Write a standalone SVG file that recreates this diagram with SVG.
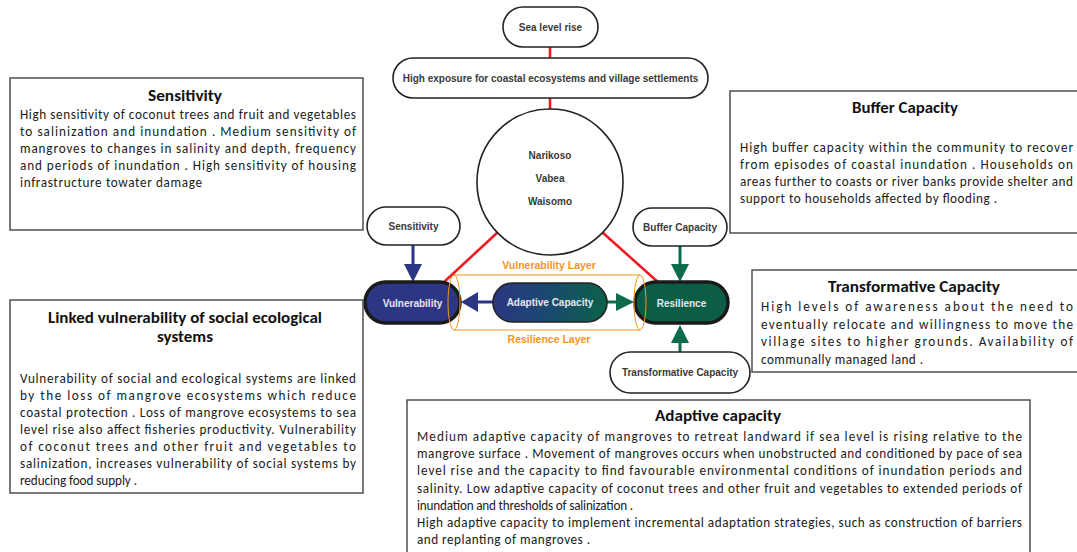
<svg xmlns="http://www.w3.org/2000/svg" width="1077" height="552" viewBox="0 0 1077 552">
<defs>
<linearGradient id="adGrad" x1="0" y1="0" x2="1" y2="0">
<stop offset="0" stop-color="#2b3782"/>
<stop offset="0.5" stop-color="#1a4a6e"/>
<stop offset="1" stop-color="#0b6247"/>
</linearGradient>
<style>
.pill{fill:#fff;stroke:#222;stroke-width:1.6}
.pl{font-family:"Liberation Sans",Arial,sans-serif;font-weight:bold;font-size:10px;fill:#3a3a3a;text-anchor:middle}
.wl{font-family:"Liberation Sans",Arial,sans-serif;font-weight:bold;font-size:10px;fill:#e8e8f0;text-anchor:middle}
.ol{font-family:"Liberation Sans",Arial,sans-serif;font-weight:bold;font-size:10.5px;fill:#f7941d;text-anchor:middle}
.box{fill:#fff;stroke:#444;stroke-width:1.4}
.t{font-family:Carlito,Lato,"Liberation Sans",sans-serif;font-size:13.2px;fill:#1a1a1a}
.h{font-family:Carlito,Lato,"Liberation Sans",sans-serif;font-size:15px;font-weight:bold;fill:#111}
.red{stroke:#ed1c24;stroke-width:2.6;fill:none}
.nav{stroke:#2b3782;stroke-width:3;fill:none}
.grn{stroke:#0e6b4c;stroke-width:3;fill:none}
.cyl{stroke:#f7941d;stroke-width:1;fill:none}
</style>
</defs>
<rect width="1077" height="552" fill="#fff"/>

<g id="connectors">
<line class="red" x1="550" y1="47" x2="550" y2="58"/>
<line class="red" x1="550" y1="98" x2="550" y2="110"/>
<line class="red" x1="498" y1="232" x2="443" y2="283"/>
<line class="red" x1="602" y1="232" x2="659" y2="283"/>
<line class="nav" x1="413" y1="245" x2="413" y2="266"/>
<polygon fill="#2b3782" points="404,264 422,264 413,282"/>
<line class="grn" x1="680" y1="246" x2="680" y2="266"/>
<polygon fill="#0e6b4c" points="671,264 689,264 680,282"/>
<line class="grn" x1="680" y1="352" x2="680" y2="341"/>
<polygon fill="#0e6b4c" points="671,343 689,343 680,325"/>
<line class="nav" x1="493" y1="302" x2="475" y2="302"/>
<polygon fill="#2b3782" points="478,292 478,312 461,302"/>
<line class="grn" x1="607" y1="302" x2="618" y2="302"/>
<polygon fill="#0e6b4c" points="616,293 616,311 634,302"/>
</g>

<g id="sea-level-rise">
<rect class="pill" x="503" y="7" width="95" height="40" rx="20"/>
<text class="pl" x="550.5" y="30.5">Sea level rise</text>
</g>
<g id="exposure">
<rect class="pill" x="393" y="58" width="315" height="40" rx="20"/>
<text class="pl" x="550.5" y="81.5">High exposure for coastal ecosystems and village settlements</text>
</g>
<g id="villages">
<circle cx="550" cy="182" r="73" fill="#fff" stroke="#222" stroke-width="1.6"/>
<text class="pl" x="550" y="158.5">Narikoso</text>
<text class="pl" x="550" y="181.5">Vabea</text>
<text class="pl" x="550" y="204.5">Waisomo</text>
</g>
<g id="sensitivity-pill">
<rect class="pill" x="367" y="207" width="93" height="38" rx="19"/>
<text class="pl" x="413.5" y="229.5">Sensitivity</text>
</g>
<g id="buffer-pill">
<rect class="pill" x="633" y="208" width="94" height="38" rx="19"/>
<text class="pl" x="680" y="230.5">Buffer Capacity</text>
</g>
<g id="vulnerability">
<rect x="365" y="282" width="95" height="41" rx="20.5" fill="#2b3782" stroke="#1a1a1a" stroke-width="3.5"/>
<text class="wl" x="412.5" y="306.5">Vulnerability</text>
</g>
<g id="adaptive-capacity">
<rect x="493" y="283" width="114" height="39" rx="19.5" fill="url(#adGrad)" stroke="#222" stroke-width="1.6"/>
<text class="wl" x="550" y="306">Adaptive Capacity</text>
</g>
<g id="resilience">
<rect x="635" y="282" width="93" height="41" rx="20.5" fill="#0b5e45" stroke="#1a1a1a" stroke-width="3.5"/>
<text class="wl" x="681.5" y="306.5">Resilience</text>
</g>
<g id="transformative-pill">
<rect class="pill" x="610" y="352" width="140" height="41" rx="20.5"/>
<text class="pl" x="680" y="376">Transformative Capacity</text>
</g>
<g id="layers">
<line class="cyl" x1="454" y1="275" x2="640" y2="275"/>
<line class="cyl" x1="454" y1="330" x2="640" y2="330"/>
<ellipse class="cyl" cx="454" cy="302.5" rx="6" ry="27.5"/>
<ellipse class="cyl" cx="640" cy="302.5" rx="6" ry="27.5"/>
<text class="ol" x="549" y="268.5">Vulnerability Layer</text>
<text class="ol" x="549" y="342.5">Resilience Layer</text>
</g>

<g id="sensitivity-box">
<rect class="box" x="10" y="78" width="353" height="152"/>
<text class="h" x="148" y="101" textLength="74" lengthAdjust="spacingAndGlyphs">Sensitivity</text>
<text class="t" x="20" y="119" textLength="336" lengthAdjust="spacing">High sensitivity of coconut trees and fruit and vegetables</text>
<text class="t" x="20" y="136" textLength="336" lengthAdjust="spacing">to salinization  and inundation . Medium sensitivity  of</text>
<text class="t" x="20" y="153" textLength="336" lengthAdjust="spacing">mangroves to changes in salinity and depth, frequency</text>
<text class="t" x="20" y="170" textLength="336" lengthAdjust="spacing">and periods of inundation . High sensitivity  of housing</text>
<text class="t" x="20" y="187" textLength="182" lengthAdjust="spacing">infrastructure towater damage</text>
</g>

<g id="buffer-box">
<rect class="box" x="730" y="91" width="360" height="142"/>
<text class="h" x="852" y="113" textLength="106" lengthAdjust="spacingAndGlyphs">Buffer Capacity</text>
<text class="t" x="740" y="152" textLength="333" lengthAdjust="spacing">High buffer capacity within the community to recover</text>
<text class="t" x="740" y="169" textLength="333" lengthAdjust="spacing">from episodes of coastal inundation . Households on</text>
<text class="t" x="740" y="186" textLength="333" lengthAdjust="spacing">areas further to coasts or river banks provide shelter and</text>
<text class="t" x="740" y="203" textLength="257" lengthAdjust="spacing">support to households affected by flooding .</text>
</g>

<g id="transformative-box">
<rect class="box" x="752" y="270" width="340" height="102"/>
<text class="h" x="828" y="292" textLength="172" lengthAdjust="spacingAndGlyphs">Transformative Capacity</text>
<text class="t" x="761" y="311" textLength="312" lengthAdjust="spacing">High levels of awareness about the need to</text>
<text class="t" x="761" y="328.5" textLength="312" lengthAdjust="spacing">eventually relocate and willingness to move the</text>
<text class="t" x="761" y="346" textLength="312" lengthAdjust="spacing">village sites to higher grounds. Availability of</text>
<text class="t" x="761" y="363.5" textLength="162" lengthAdjust="spacing">communally managed land .</text>
</g>

<g id="linked-box">
<rect class="box" x="10" y="300" width="353" height="193"/>
<text class="h" x="48" y="323" textLength="274" lengthAdjust="spacingAndGlyphs">Linked vulnerability of social ecological</text>
<text class="h" x="157" y="342" textLength="56" lengthAdjust="spacingAndGlyphs">systems</text>
<text class="t" x="20" y="383" textLength="336" lengthAdjust="spacing">Vulnerability of social and ecological systems are linked</text>
<text class="t" x="20" y="400" textLength="336" lengthAdjust="spacing">by the loss of mangrove ecosystems which reduce</text>
<text class="t" x="20" y="417" textLength="336" lengthAdjust="spacing">coastal protection . Loss of mangrove ecosystems  to sea</text>
<text class="t" x="20" y="434" textLength="336" lengthAdjust="spacing">level rise also affect fisheries productivity. Vulnerability</text>
<text class="t" x="20" y="451" textLength="336" lengthAdjust="spacing">of coconut trees and other fruit and vegetables to</text>
<text class="t" x="20" y="468" textLength="336" lengthAdjust="spacing">salinization, increases vulnerability of social systems by</text>
<text class="t" x="20" y="485" textLength="117" lengthAdjust="spacing">reducing food supply .</text>
</g>

<g id="adaptive-box">
<rect class="box" x="407" y="400" width="623" height="160"/>
<text class="h" x="655" y="421" textLength="126" lengthAdjust="spacingAndGlyphs">Adaptive capacity</text>
<text class="t" x="417" y="441" textLength="605" lengthAdjust="spacing">Medium adaptive  capacity of mangroves to retreat landward if sea level is rising relative to the</text>
<text class="t" x="417" y="458" textLength="605" lengthAdjust="spacing">mangrove surface . Movement of mangroves occurs when unobstructed and conditioned by pace of sea</text>
<text class="t" x="417" y="475" textLength="605" lengthAdjust="spacing">level rise and the capacity to find favourable environmental conditions of inundation  periods and</text>
<text class="t" x="417" y="493" textLength="605" lengthAdjust="spacing">salinity. Low adaptive  capacity of coconut trees and other fruit and vegetables to extended periods  of</text>
<text class="t" x="417" y="510" textLength="216" lengthAdjust="spacing">inundation and thresholds of salinization .</text>
<text class="t" x="417" y="527" textLength="605" lengthAdjust="spacing">High adaptive capacity to implement incremental  adaptation strategies, such as construction of barriers</text>
<text class="t" x="417" y="544" textLength="173" lengthAdjust="spacing">and replanting of mangroves .</text>
</g>
</svg>
